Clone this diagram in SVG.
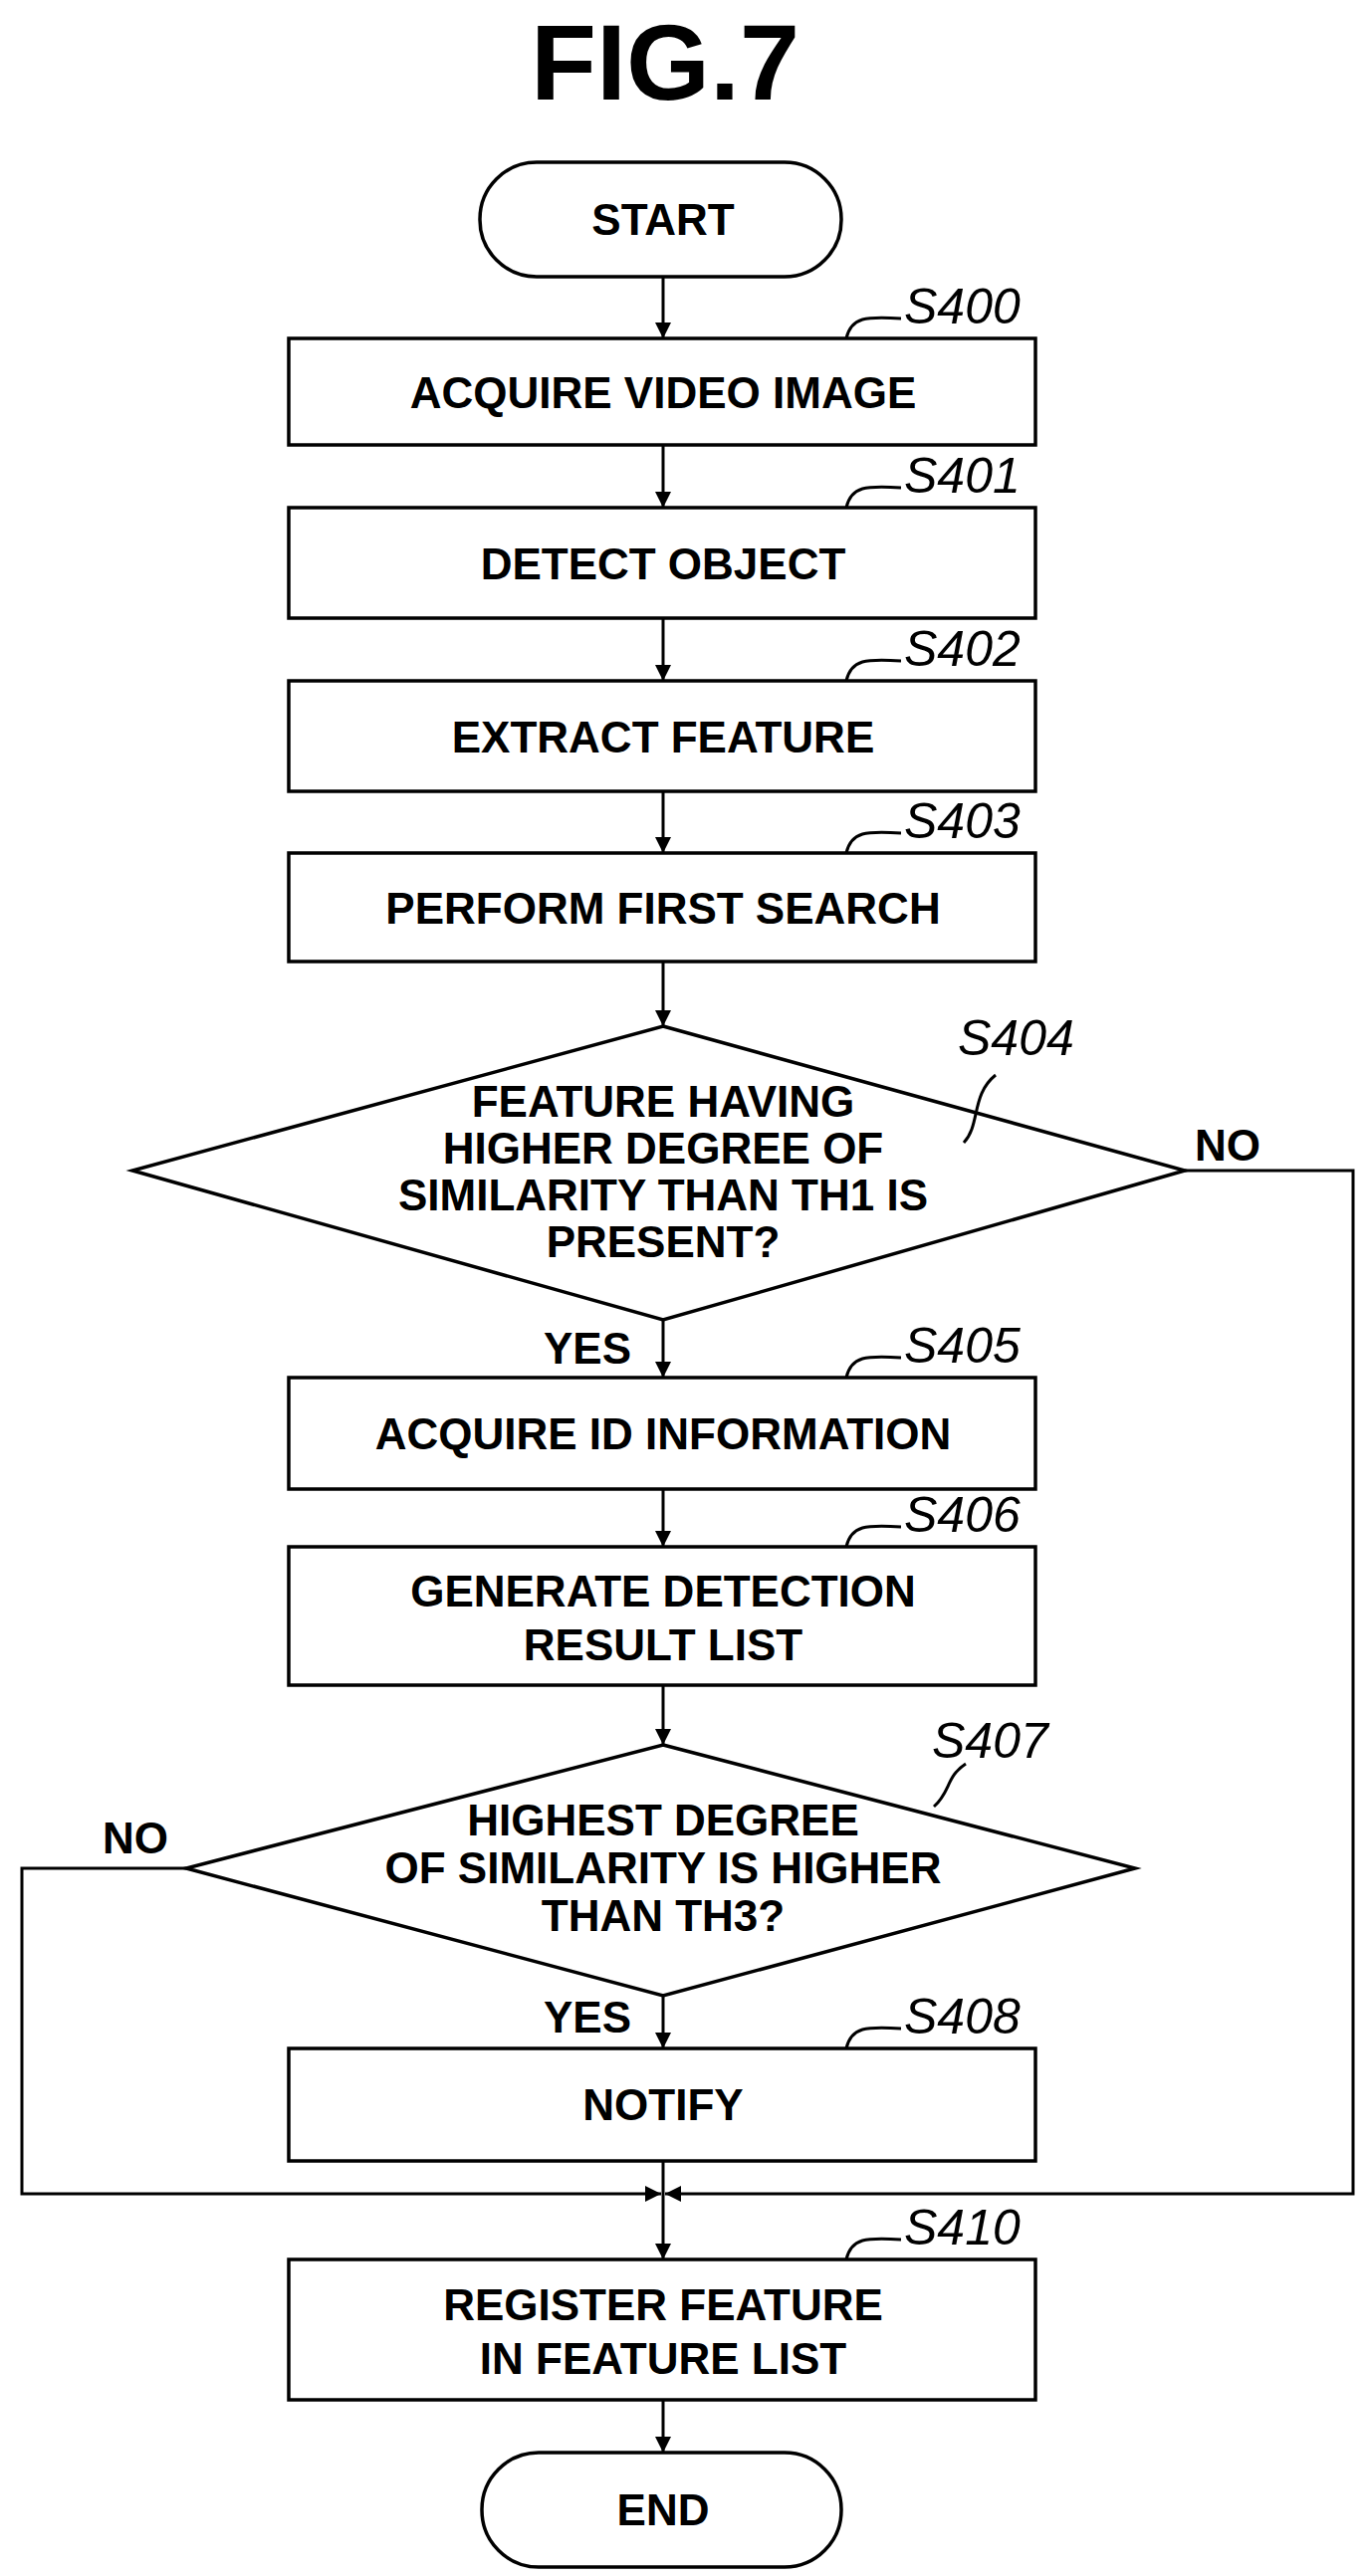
<svg xmlns="http://www.w3.org/2000/svg" width="1375" height="2588" viewBox="0 0 1375 2588">
<style>
.s{fill:#fff;stroke:#000;stroke-width:3.5}
.t{font-family:"Liberation Sans",Arial,sans-serif;font-weight:bold;font-size:44px;text-anchor:middle;fill:#000}
.l{font-family:"Liberation Sans",Arial,sans-serif;font-style:italic;font-size:50px;fill:#000}
.c{fill:none;stroke:#000;stroke-width:3}
</style>
<defs><marker id="a" markerWidth="16" markerHeight="18" refX="16" refY="8" orient="auto" markerUnits="userSpaceOnUse" viewBox="0 0 16 16"><path d="M0,0 L16,8 L0,16 z" fill="#000"/></marker></defs>
<text x="668" y="100" style="font-family:'Liberation Sans',Arial,sans-serif;font-weight:bold;font-size:108px;text-anchor:middle">FIG.7</text>
<g id="connectors">
<path class="c" d="M666,278 V340" marker-end="url(#a)"/>
<path class="c" d="M666,447 V510" marker-end="url(#a)"/>
<path class="c" d="M666,621 V684" marker-end="url(#a)"/>
<path class="c" d="M666,795 V857" marker-end="url(#a)"/>
<path class="c" d="M666,966 V1031" marker-end="url(#a)"/>
<path class="c" d="M666,1326 V1384" marker-end="url(#a)"/>
<path class="c" d="M666,1496 V1554" marker-end="url(#a)"/>
<path class="c" d="M666,1693 V1753" marker-end="url(#a)"/>
<path class="c" d="M666,2005 V2058" marker-end="url(#a)"/>
<path class="c" d="M666,2171 V2270" marker-end="url(#a)"/>
<path class="c" d="M1190,1176 H1359 V2204 H668" marker-end="url(#a)"/>
<path class="c" d="M187,1877 H22 V2204 H664" marker-end="url(#a)"/>
<path class="c" d="M666,2411 V2464" marker-end="url(#a)"/>
<text class="t" x="1200" y="1166" style="text-anchor:start">NO</text>
<text class="t" x="136" y="1862">NO</text>
<text class="t" x="590" y="1370">YES</text>
<text class="t" x="590" y="2042">YES</text>
</g>
<g id="start"><rect class="s" x="482" y="163" width="363" height="115" rx="57"/><text class="t" x="666" y="236">START</text></g>
<g id="s400"><rect class="s" x="290" y="340" width="750" height="107"/><text class="t" x="666" y="410">ACQUIRE VIDEO IMAGE</text>
<path class="c" d="M850,340 C855,318 870,318 905,320"/><text class="l" x="908" y="325">S400</text></g>
<g id="s401"><rect class="s" x="290" y="510" width="750" height="111"/><text class="t" x="666" y="582">DETECT OBJECT</text>
<path class="c" d="M850,510 C855,488 870,488 905,490"/><text class="l" x="908" y="495">S401</text></g>
<g id="s402"><rect class="s" x="290" y="684" width="750" height="111"/><text class="t" x="666" y="756">EXTRACT FEATURE</text>
<path class="c" d="M850,684 C855,662 870,662 905,664"/><text class="l" x="908" y="669">S402</text></g>
<g id="s403"><rect class="s" x="290" y="857" width="750" height="109"/><text class="t" x="666" y="928">PERFORM FIRST SEARCH</text>
<path class="c" d="M850,857 C855,835 870,835 905,837"/><text class="l" x="908" y="842">S403</text></g>
<g id="s404"><polygon class="s" points="666,1031 1190,1176 666,1326 133,1176"/>
<text class="t" x="666" y="1122">FEATURE HAVING</text><text class="t" x="666" y="1169">HIGHER DEGREE OF</text><text class="t" x="666" y="1216">SIMILARITY THAN TH1 IS</text><text class="t" x="666" y="1263">PRESENT?</text>
<path class="c" d="M968,1148 C985,1130 975,1100 1000,1080"/><text class="l" x="962" y="1060">S404</text></g>
<g id="s405"><rect class="s" x="290" y="1384" width="750" height="112"/><text class="t" x="666" y="1456">ACQUIRE ID INFORMATION</text>
<path class="c" d="M850,1384 C855,1362 870,1362 905,1364"/><text class="l" x="908" y="1369">S405</text></g>
<g id="s406"><rect class="s" x="290" y="1554" width="750" height="139"/><text class="t" x="666" y="1614">GENERATE DETECTION</text><text class="t" x="666" y="1668">RESULT LIST</text>
<path class="c" d="M850,1554 C855,1532 870,1532 905,1534"/><text class="l" x="908" y="1539">S406</text></g>
<g id="s407"><polygon class="s" points="666,1753 1140,1877 666,2005 187,1877"/>
<text class="t" x="666" y="1844">HIGHEST DEGREE</text><text class="t" x="666" y="1892">OF SIMILARITY IS HIGHER</text><text class="t" x="666" y="1940">THAN TH3?</text>
<path class="c" d="M938,1815 C955,1800 950,1785 970,1772"/><text class="l" x="936" y="1766">S407</text></g>
<g id="s408"><rect class="s" x="290" y="2058" width="750" height="113"/><text class="t" x="666" y="2130">NOTIFY</text>
<path class="c" d="M850,2058 C855,2036 870,2036 905,2038"/><text class="l" x="908" y="2043">S408</text></g>
<g id="s410"><rect class="s" x="290" y="2270" width="750" height="141"/><text class="t" x="666" y="2331">REGISTER FEATURE</text><text class="t" x="666" y="2385">IN FEATURE LIST</text>
<path class="c" d="M850,2270 C855,2248 870,2248 905,2250"/><text class="l" x="908" y="2255">S410</text></g>
<g id="end"><rect class="s" x="484" y="2464" width="361" height="115" rx="57"/><text class="t" x="666" y="2537">END</text></g>
</svg>
